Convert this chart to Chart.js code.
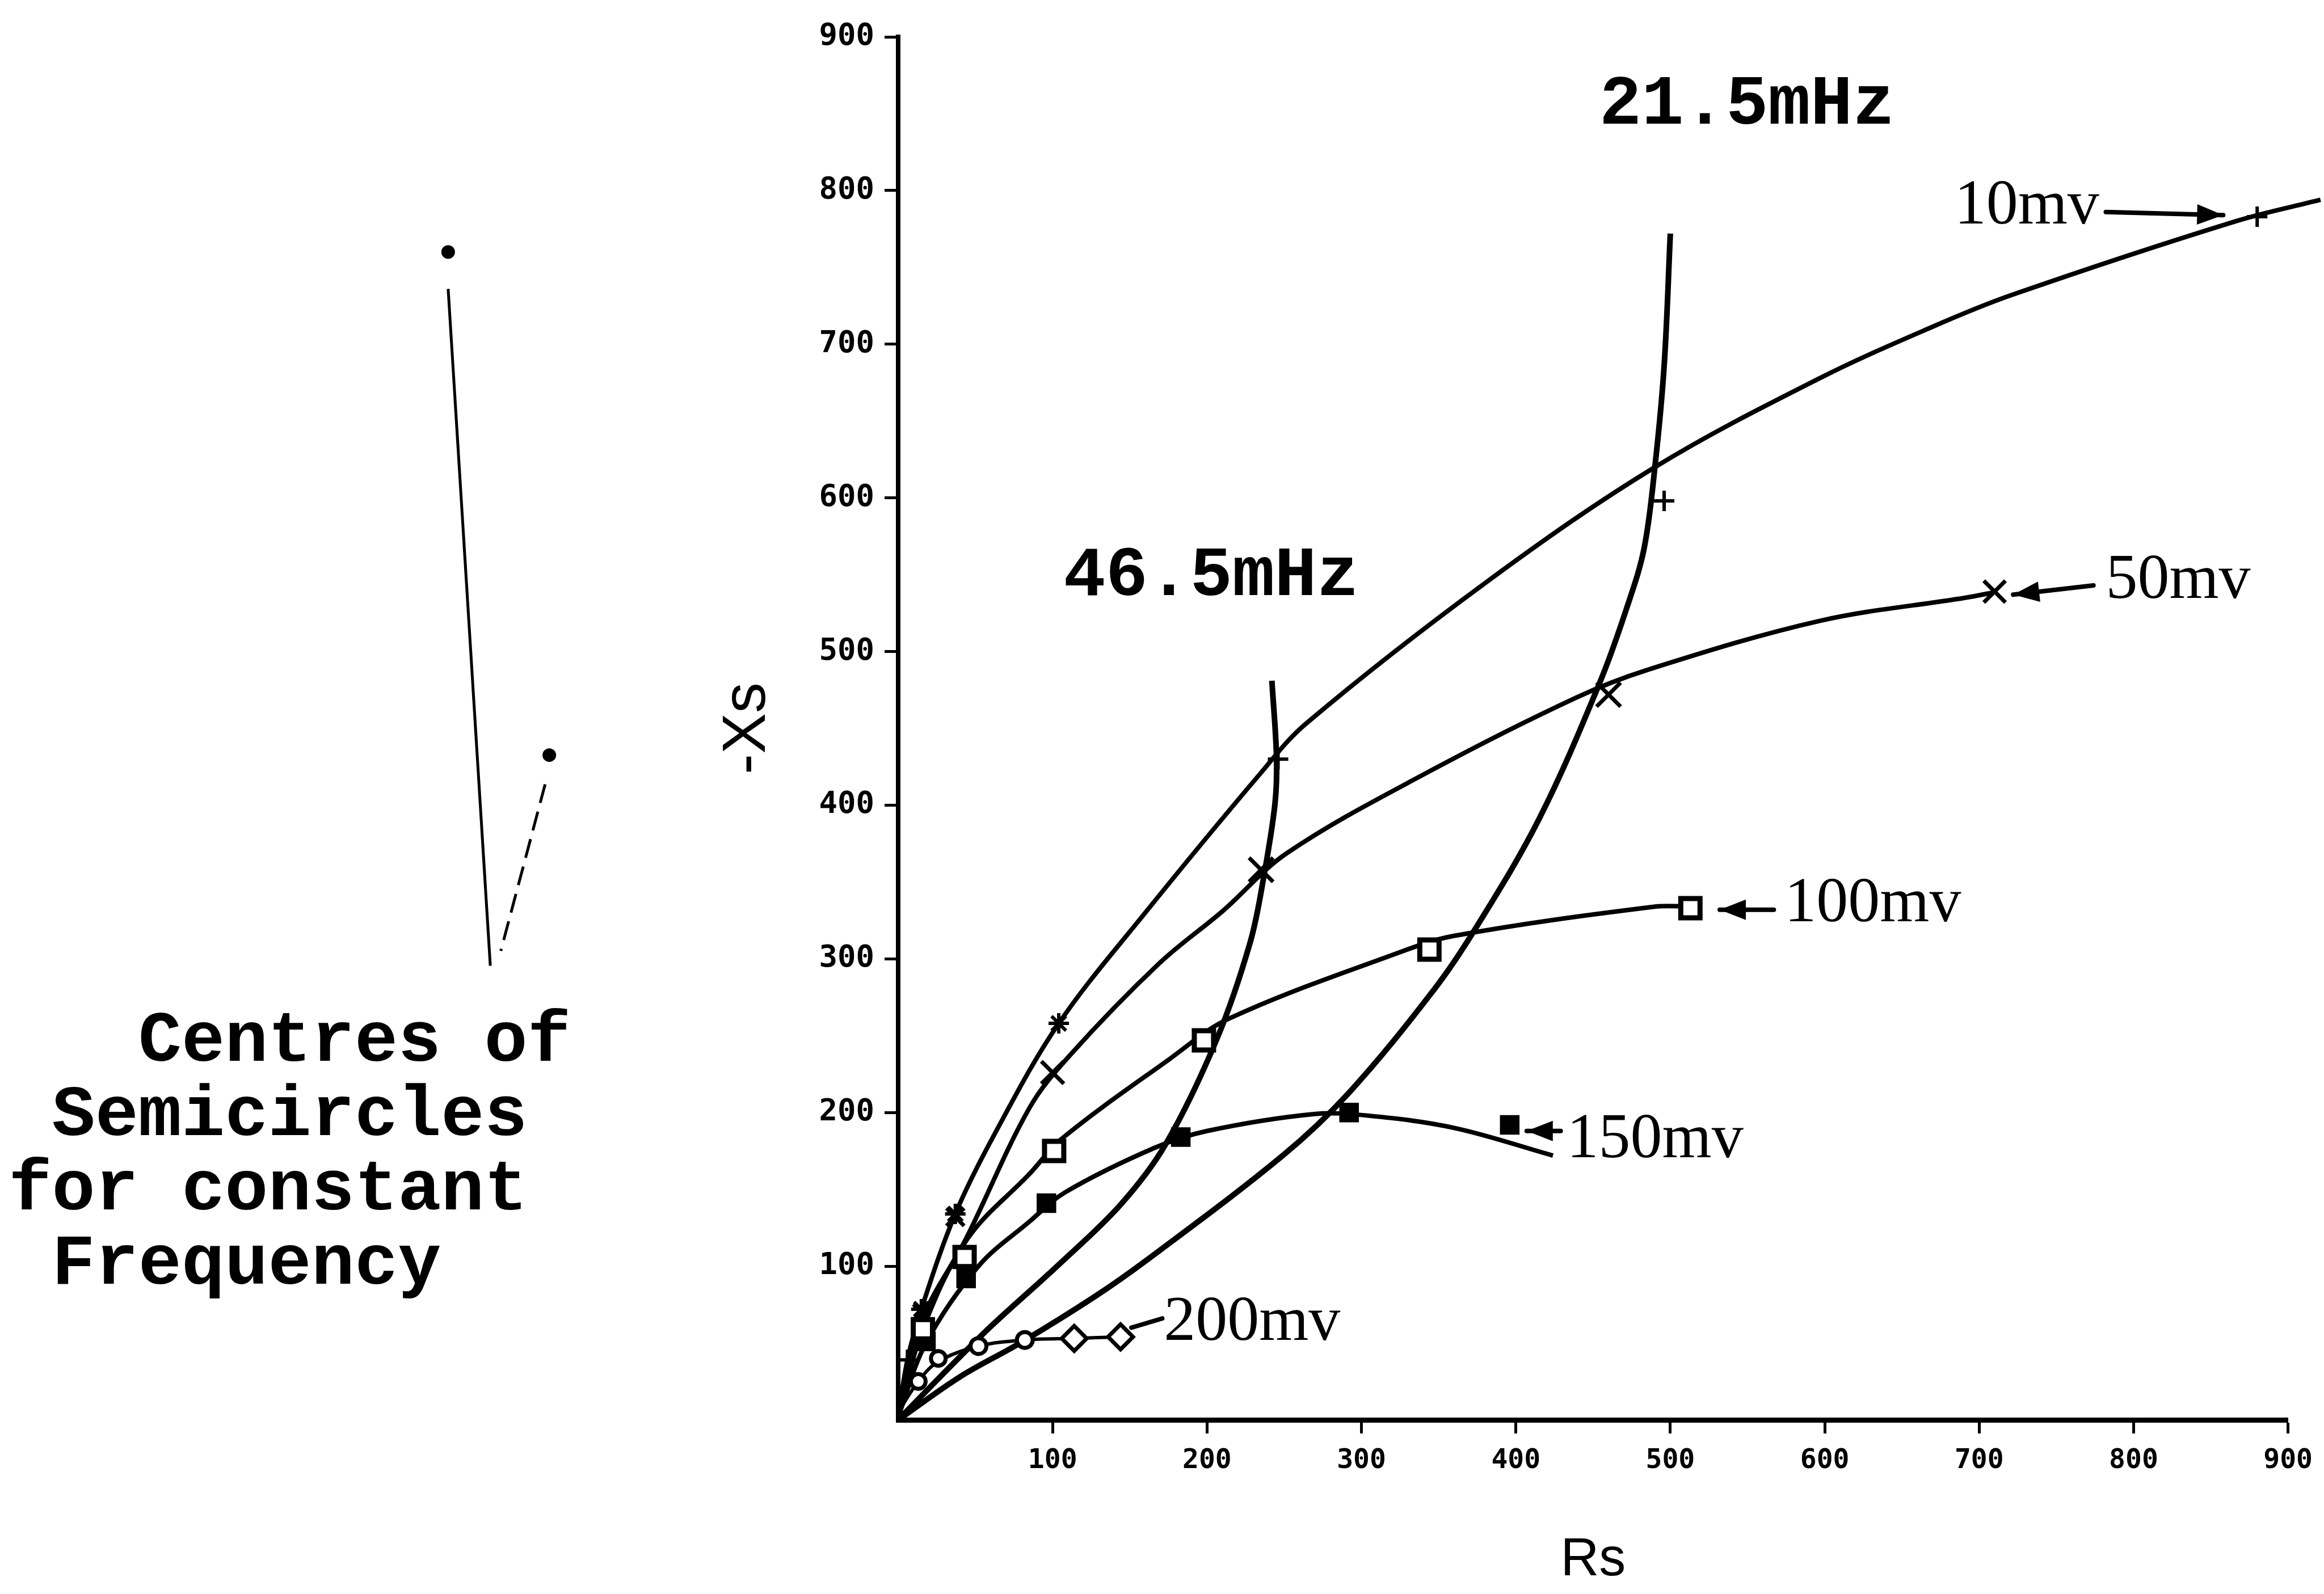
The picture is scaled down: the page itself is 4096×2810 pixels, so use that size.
<!DOCTYPE html>
<html>
<head>
<meta charset="utf-8">
<script src="https://cdn.jsdelivr.net/npm/chart.js@4.4.1/dist/chart.umd.min.js"></script>
<style>
  html, body { margin: 0; padding: 0; background: #fff; }
  canvas { display: block; }
</style>
</head>
<body>
<canvas id="plot" width="4096" height="2810"></canvas>
<script>
// ---- axes ----
var xTickVals = [0, 100, 200, 300, 400, 500, 600, 700, 800, 900];
var yTickVals = [0, 100, 200, 300, 400, 500, 600, 700, 800, 900];

// ---- measured points (Rs, -Xs) per drive level ----
var mv10Rs  = [6, 15, 37, 104, 246, 496, 880];
var mv10Xs  = [39, 72, 134, 258, 430, 598, 783];
var mv50Rs  = [15, 37, 100, 235, 460, 710];
var mv50Xs  = [70, 132, 226, 358, 472, 539];
var mv100Rs = [16, 43, 101, 198, 344, 513];
var mv100Xs = [59, 106, 175, 247, 306, 333];
var mv150Rs = [18, 44, 96, 183, 292, 396];
var mv150Xs = [51, 92, 141, 184, 200, 192];
var mv200Rs = [13, 26, 52, 82, 114, 144];
var mv200Xs = [25, 40, 48, 52, 53, 54];

// ---- hand drawn curves through them ----
var fit10Rs  = [0, 6, 15, 37, 63, 104, 160, 234, 264, 382, 490, 597, 669, 721, 866, 921];
var fit10Xs  = [2, 39, 72, 134, 187, 258, 330, 420, 453, 546, 620, 678, 711, 732, 780, 794];
var fit50Rs  = [0, 15, 44, 85, 111, 169, 210, 252, 344, 439, 485, 597, 691, 712];
var fit50Xs  = [2, 64, 118, 203, 237, 297, 331, 369, 422, 470, 488, 520, 535, 539];
var fit100Rs = [0, 16, 45, 85, 106, 176, 214, 324, 360, 490, 513];
var fit100Xs = [2, 59, 118, 160, 183, 235, 261, 304, 315, 334, 334];
var fit150Rs = [0, 18, 52, 85, 108, 166, 200, 269, 304, 360, 424];
var fit150Xs = [2, 50, 100, 129, 148, 177, 188, 199, 198, 190, 172];
var fit200Rs = [0, 13, 26, 52, 82, 114, 144];
var fit200Xs = [5, 25, 38, 48, 52, 53, 54];

// ---- constant frequency curves ----
var f21Rs = [0, 40, 79, 127, 161, 249, 292, 347, 374, 415, 454, 472, 483, 490, 496, 500];
var f21Xs = [0, 28, 50, 80, 104, 172, 213, 280, 320, 391, 479, 529, 567, 620, 686, 772];
var f46Rs = [0, 55, 104, 144, 173, 206, 228, 237, 244, 245, 242];
var f46Xs = [0, 56, 101, 140, 179, 247, 311, 355, 401, 431, 481];

// ---- centres of the semicircles ----
var centreRs = [-291.4, -225.9];
var centreXs = [760, 432.6];

function pts(xs, ys) {
    return xs.map(function(x, i) { return { x: x, y: ys[i] }; });
}

// labels / arrows, placed in data units
var notes = {
    volt: [
        { text: '10mv',  at: [684, 778.6], arrow: [782, 786, 858, 784], head: true },
        { text: '50mv',  at: [782, 535],   arrow: [774, 543, 722, 537], head: true },
        { text: '100mv', at: [574, 324.5], arrow: [567, 332, 532, 332], head: true },
        { text: '150mv', at: [433, 171],   arrow: [429, 188, 407, 188], head: true },
        { text: '200mv', at: [172, 52],    arrow: [171, 66, 151, 60],   head: false }
    ],
    freq: [
        { text: '21.5mHz', at: [454, 843.7] },
        { text: '46.5mHz', at: [107, 536.8] }
    ],
    leaders: [
        { from: [-291.4, 736], to: [-264.1, 295.5], dash: [] },
        { from: [-228.6, 413.6], to: [-257.3, 305.2], dash: [34, 16] }
    ],
    block: {
        lines: ['   Centres of', ' Semicircles', 'for constant', ' Frequency'],
        at: [-576, 233.6]
    }
};

var notePlugin = {
    id: 'notes',
    afterDraw: function(chart) {
        var ctx = chart.ctx, sx = chart.scales.x, sy = chart.scales.y;
        function px(v) { return sx.getPixelForValue(v); }
        function py(v) { return sy.getPixelForValue(v); }
        ctx.save();
        ctx.fillStyle = '#000';
        ctx.strokeStyle = '#000';
        ctx.textBaseline = 'alphabetic';
        ctx.textAlign = 'left';

        // drive level labels with arrows
        ctx.font = "112px 'Liberation Serif'";
        notes.volt.forEach(function(n) {
            ctx.fillText(n.text, px(n.at[0]), py(n.at[1]));
            var x1 = px(n.arrow[0]), y1 = py(n.arrow[1]), x2 = px(n.arrow[2]), y2 = py(n.arrow[3]);
            ctx.lineWidth = 8;
            ctx.lineCap = 'round';
            ctx.beginPath(); ctx.moveTo(x1, y1); ctx.lineTo(x2, y2); ctx.stroke();
            if (n.head) {
                var a = Math.atan2(y2 - y1, x2 - x1), L = 46, W = 18;
                ctx.beginPath();
                ctx.moveTo(x2, y2);
                ctx.lineTo(x2 - L * Math.cos(a) + W * Math.sin(a), y2 - L * Math.sin(a) - W * Math.cos(a));
                ctx.lineTo(x2 - L * Math.cos(a) - W * Math.sin(a), y2 - L * Math.sin(a) + W * Math.cos(a));
                ctx.closePath();
                ctx.fill();
            }
        });

        // frequency labels
        ctx.font = "bold 124px 'Liberation Mono'";
        notes.freq.forEach(function(n) {
            ctx.fillText(n.text, px(n.at[0]), py(n.at[1]));
        });

        // centres of semicircles
        centreRs.forEach(function(r, i) {
            ctx.beginPath();
            ctx.arc(px(r), py(centreXs[i]), 12, 0, Math.PI * 2);
            ctx.fill();
        });
        ctx.lineWidth = 5;
        ctx.lineCap = 'butt';
        notes.leaders.forEach(function(l) {
            ctx.setLineDash(l.dash);
            ctx.beginPath();
            ctx.moveTo(px(l.from[0]), py(l.from[1]));
            ctx.lineTo(px(l.to[0]), py(l.to[1]));
            ctx.stroke();
        });
        ctx.setLineDash([]);
        ctx.font = "bold 127px 'Liberation Mono'";
        var bx = px(notes.block.at[0]), by = py(notes.block.at[1]);
        notes.block.lines.forEach(function(t, i) {
            ctx.fillText(t, bx, by + i * 131);
        });
        ctx.restore();
    }
};

function curve(xs, ys, w) {
    return {
        data: pts(xs, ys), showLine: true, borderColor: '#000', borderWidth: w,
        pointRadius: 0, tension: 0.35, fill: false, clip: false
    };
}
function marks(xs, ys, style, r, bg, bw) {
    return {
        data: pts(xs, ys), showLine: false, pointStyle: style, pointRadius: r,
        pointBackgroundColor: bg, pointBorderColor: '#000', pointBorderWidth: bw
    };
}

var datasets = [
    marks(mv10Rs, mv10Xs, ['cross', 'star', 'star', 'star', 'cross', 'cross', 'cross'], 18, '#000', 6),
    marks(mv50Rs, mv50Xs, 'crossRot', [20, 22, 28, 30, 30, 27], '#000', 7),
    marks(mv100Rs, mv100Xs, 'rect', 24, '#fff', 9),
    marks(mv150Rs, mv150Xs, 'rect', 23, '#000', 2),
    marks(mv200Rs, mv200Xs, ['circle', 'circle', 'circle', 'circle', 'rectRot', 'rectRot'],
          [13, 13, 14, 14, 22, 22], '#fff', 7),
    curve(fit10Rs, fit10Xs, 8),
    curve(fit50Rs, fit50Xs, 8),
    curve(fit100Rs, fit100Xs, 8),
    curve(fit150Rs, fit150Xs, 8),
    curve(fit200Rs, fit200Xs, 6),
    curve(f21Rs, f21Xs, 10),
    curve(f46Rs, f46Xs, 10)
];

function tickColor(c) { return c.tick && c.tick.value === 0 ? 'rgba(0,0,0,0)' : '#000'; }

new Chart(document.getElementById('plot'), {
    type: 'scatter',
    data: { datasets: datasets },
    options: {
        responsive: false, animation: false, devicePixelRatio: 1, events: [],
        layout: { padding: { left: 1264, right: 61, top: 65, bottom: 12 } },
        plugins: { legend: { display: false }, tooltip: { enabled: false } },
        scales: {
            x: {
                type: 'linear', min: 0, max: 900,
                afterBuildTicks: function(s) { s.ticks = xTickVals.map(function(v) { return { value: v }; }); },
                afterFit: function(s) { s.height = 295; },
                border: { display: true, color: '#000', width: 9 },
                grid: { drawOnChartArea: false, drawTicks: true, tickLength: 24, tickWidth: 5, tickColor: tickColor },
                ticks: {
                    font: { family: "'DejaVu Sans Mono'", size: 48, weight: 'bold' },
                    color: '#000', padding: 20, autoSkip: false, maxRotation: 0,
                    callback: function(v) { return v === 0 ? '' : String(v); }
                },
                title: { display: true, text: 'Rs', color: '#000', padding: 0,
                         font: { family: "'Liberation Sans'", size: 94, lineHeight: 1 } }
            },
            y: {
                type: 'linear', min: 0, max: 900,
                afterBuildTicks: function(s) { s.ticks = yTickVals.map(function(v) { return { value: v }; }); },
                afterFit: function(s) { s.width = 319; },
                border: { display: true, color: '#000', width: 8 },
                grid: { drawOnChartArea: false, drawTicks: true, tickLength: 24, tickWidth: 5, tickColor: tickColor },
                ticks: {
                    font: { family: "'DejaVu Sans Mono'", size: 54, weight: 'bold' },
                    color: '#000', padding: 18, autoSkip: false,
                    callback: function(v) { return v === 0 ? '' : String(v); }
                },
                title: { display: true, text: '-Xs', color: '#000', padding: 0,
                         font: { family: "'Liberation Sans'", size: 108, lineHeight: 1 } }
            }
        }
    },
    plugins: [notePlugin]
});
</script>
</body>
</html>
